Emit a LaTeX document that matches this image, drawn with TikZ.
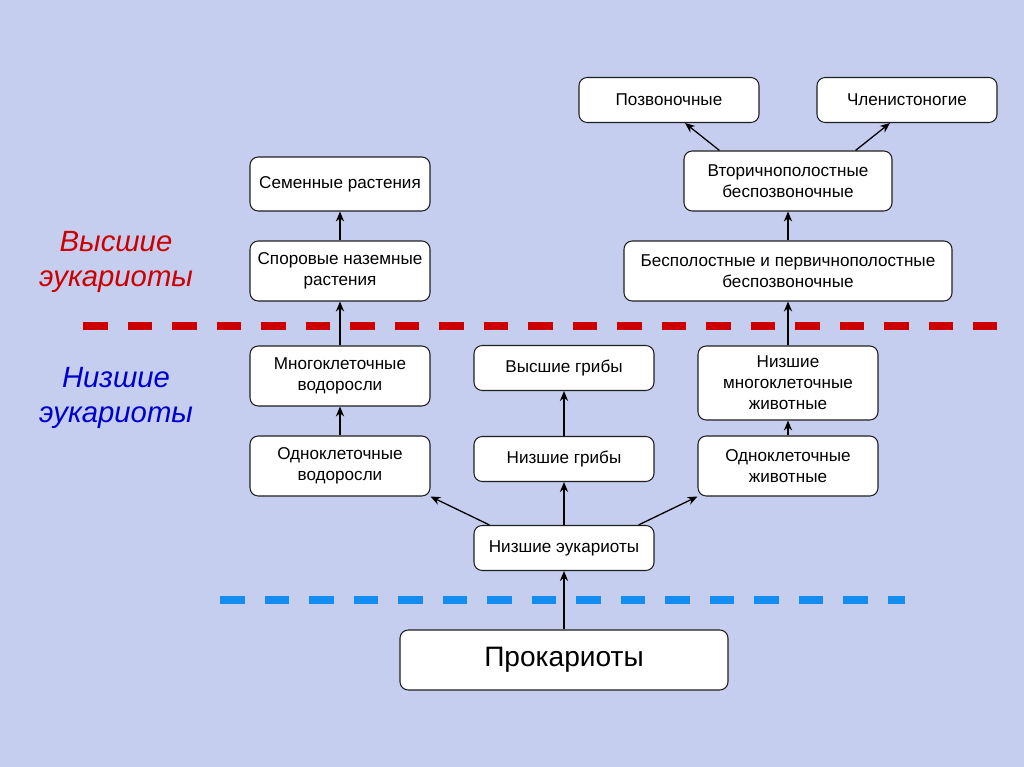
\documentclass[tikz,border=0pt]{standalone}
\usepackage{fontspec}
\setmainfont{Liberation Sans}
\usetikzlibrary{arrows.meta, positioning, calc}
\definecolor{slide_bg}{RGB}{198, 206, 240}
\definecolor{box_line}{RGB}{30, 30, 30}
\definecolor{high_red}{RGB}{204, 0, 0}
\definecolor{low_blue}{RGB}{0, 0, 204}
\definecolor{sky_blue}{RGB}{20, 140, 240}

\begin{document}
\begin{tikzpicture}[
    x=0.03cm, y=-0.03cm,
    % Node styles
    taxon/.style={
        rectangle,
        draw=box_line,
        fill=white,
        line width=0.9pt,
        rounded corners=7pt,
        minimum width=5.4cm,
        minimum height=#1,
        align=center,
        inner sep=2pt,
        font=\fontsize{14.6}{18}\selectfont
    },
    taxon/.default=1.8cm,
    level/.style={
        text=#1,
        align=center,
        font=\fontsize{25}{30}\selectfont\itshape
    },
    arrow/.style={
        -{Stealth[length=8.5pt, width=7pt]},
        line width=1.1pt,
        black
    },
    border/.style={
        line width=6pt,
        dash pattern=on 21pt off 17pt,
        #1
    }
]

\fill[slide_bg] (0,0) rectangle (1024,767);
\useasboundingbox (0,0) rectangle (1024,767);

% Levels
\draw[border=high_red] (83,326) -- (997,326);
\draw[border=sky_blue] (220,600) -- (905,600);

\node[level=high_red] (high) at (116,262) {Высшие\\эукариоты};
\node[level=low_blue] (low) at (116,398) {Низшие\\эукариоты};

% Position nodes
\node[taxon, minimum height=1.8cm, minimum width=9.84cm, font=\fontsize{24}{28}\selectfont] (prok) at (564,660) {Прокариоты};
\node[taxon=1.35cm] (loweuk) at (564,548) {Низшие эукариоты};

\node[taxon] (unialg) at (340,466) {Одноклеточные\\водоросли};
\node[taxon=1.35cm] (lowfun) at (564,459) {Низшие грибы};
\node[taxon] (uniani) at (788,466) {Одноклеточные\\животные};

\node[taxon] (multalg) at (340,376) {Многоклеточные\\водоросли};
\node[taxon=1.35cm] (highfun) at (564,368) {Высшие грибы};
\node[taxon=2.22cm] (multani) at (788,383) {Низшие\\многоклеточные\\животные};

\node[taxon] (spore) at (340,271) {Споровые наземные\\растения};
\node[taxon, minimum width=9.84cm] (acoel) at (788,271) {Бесполостные и первичнополостные\\беспозвоночные};

\node[taxon=1.62cm] (seed) at (340,184) {Семенные растения};
\node[taxon, minimum width=6.24cm] (deut) at (788,181) {Вторичнополостные\\беспозвоночные};

\node[taxon=1.35cm] (vert) at (669,100) {Позвоночные};
\node[taxon=1.35cm] (arthro) at (907,100) {Членистоногие};

% Connectors
\draw[arrow] (prok.north) -- (loweuk.south);
\draw[arrow] ($(loweuk.north west)+(16,0)$) -- (unialg.south east);
\draw[arrow] (loweuk.north) -- (lowfun.south);
\draw[arrow] ($(loweuk.north east)+(-16,0)$) -- (uniani.south west);

\draw[arrow] (unialg.north) -- (multalg.south);
\draw[arrow] (multalg.north) -- (spore.south);
\draw[arrow] (spore.north) -- (seed.south);

\draw[arrow] (lowfun.north) -- (highfun.south);

\draw[arrow] (uniani.north) -- (multani.south);
\draw[arrow] (multani.north) -- (acoel.south);
\draw[arrow] (acoel.north) -- (deut.south);
\draw[arrow] ($(deut.north west)+(36,0)$) -- ($(vert.south)+(16,0)$);
\draw[arrow] ($(deut.north east)+(-37,0)$) -- ($(arthro.south)+(-17,0)$);

\end{tikzpicture}
\end{document}
